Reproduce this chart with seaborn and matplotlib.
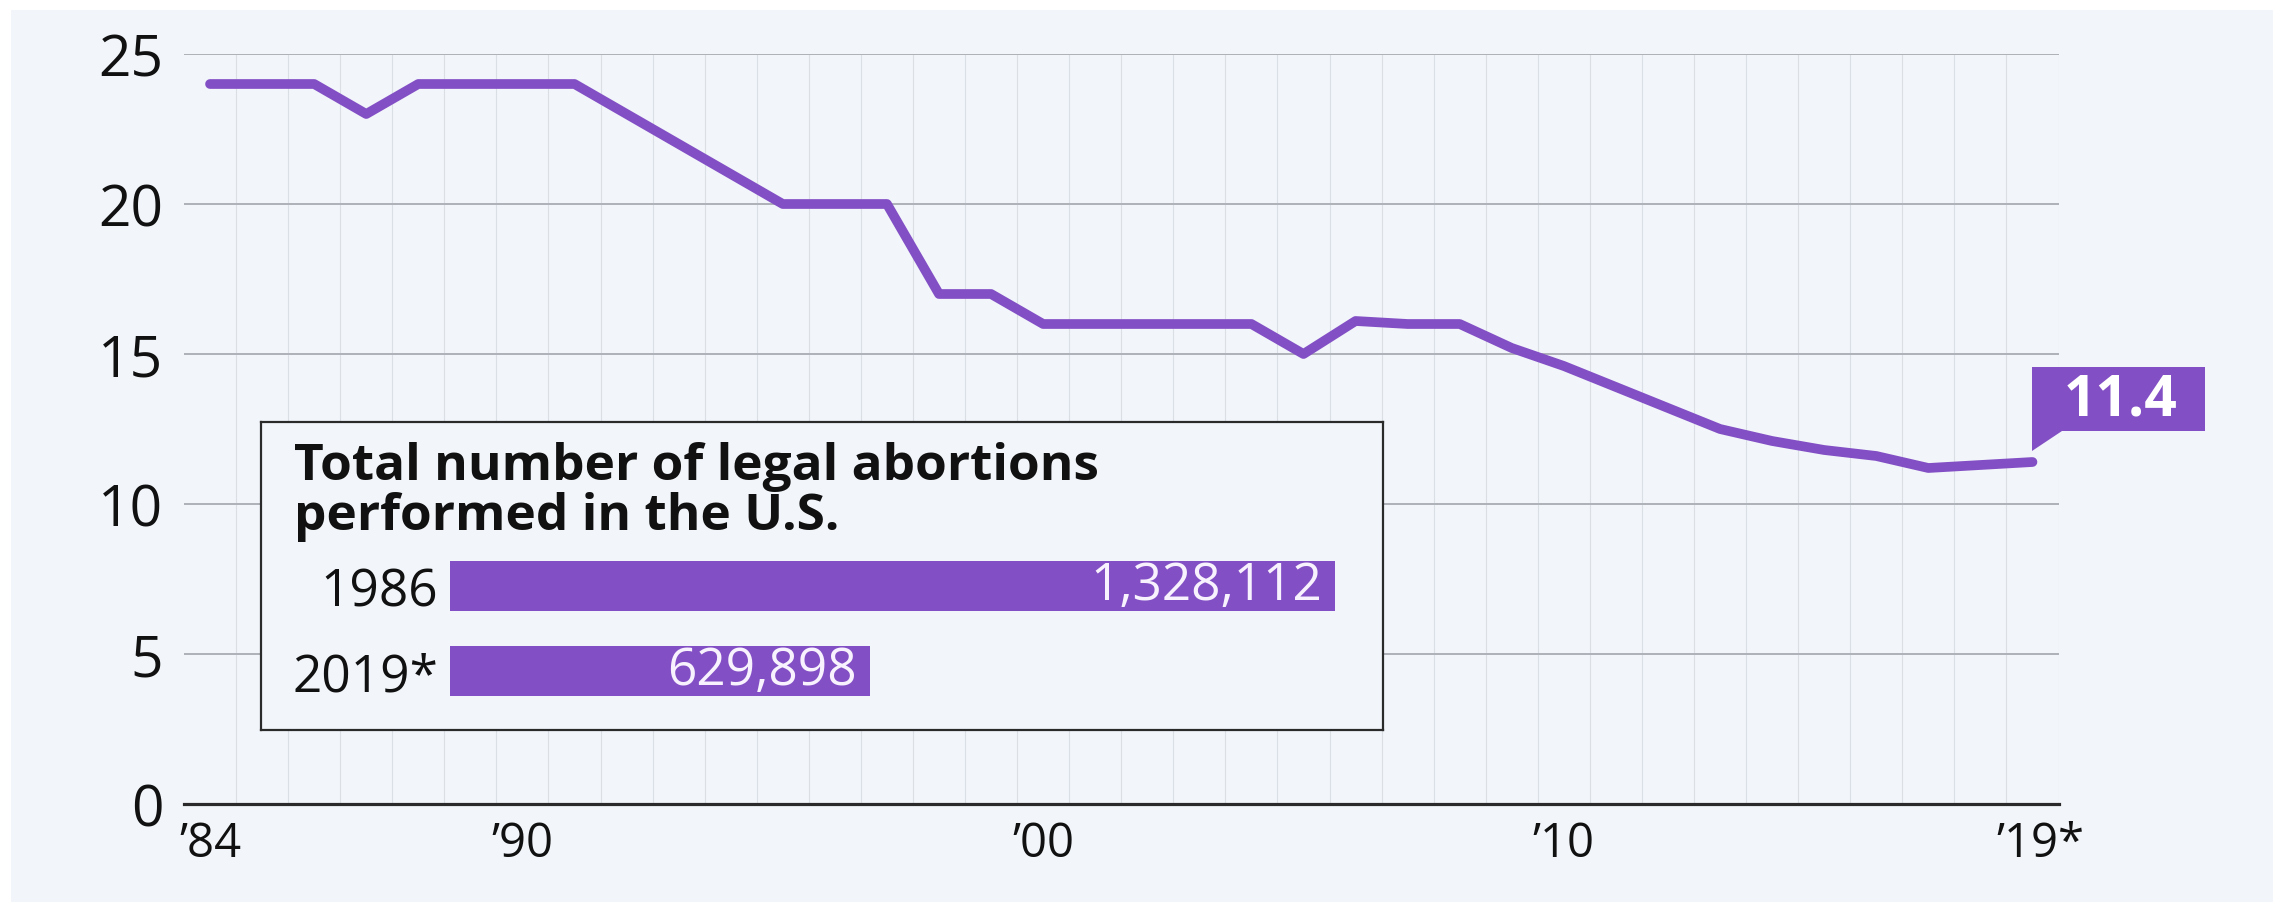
import numpy as np
import pandas as pd
import matplotlib
matplotlib.use("Agg")
import matplotlib.pyplot as plt
import matplotlib.transforms as mtransforms
from matplotlib.patches import Polygon, Rectangle
import seaborn as sns

# ---------------- data ----------------
years = list(range(1984, 2020))
rates = [24, 24, 24, 23, 24, 24, 24, 24, 23, 22, 21, 20, 20, 20, 17, 17,
         16, 16, 16, 16, 16, 15, 16.1, 16.0, 16.0, 15.2, 14.6, 13.9, 13.2,
         12.5, 12.1, 11.8, 11.6, 11.2, 11.3, 11.4]
x_ticks = [1984, 1990, 2000, 2010, 2019]
x_ticklabels = ["\u201984", "\u201990", "\u201900", "\u201910", "\u201919*"]
y_ticks = [0, 5, 10, 15, 20, 25]
last_label = "11.4"

inset_title = "Total number of legal abortions\nperformed in the U.S."
bar_years = ["1986", "2019*"]
bar_totals = [1328112, 629898]

# ---------------- style ----------------
PURPLE = "#834fc5"
BG = "#f2f6fa"
DARK = "#111111"

sns.set_style("white")
plt.rcParams["font.family"] = ["Open Sans", "DejaVu Sans"]

W, H = 2273, 903
fig = plt.figure(figsize=(W / 100, H / 100), dpi=100)
fig.patch.set_facecolor("white")
fig.add_artist(Rectangle((11 / W, 0), 1 - 11 / W, 1 - 11 / H,
                         transform=fig.transFigure, facecolor=BG,
                         edgecolor="none", zorder=0))


def rect(l, t, r, b):
    return [l / W, 1 - b / H, (r - l) / W, (b - t) / H]


# ---------------- main line chart ----------------
ax = fig.add_axes(rect(184, 55, 2058.5, 805))
ax.set_facecolor(BG)
df = pd.DataFrame({"year": years, "rate": rates})
sns.lineplot(data=df, x="year", y="rate", ax=ax, color=PURPLE, linewidth=7,
             solid_joinstyle="round", solid_capstyle="round", zorder=5)
ax.set_xlim(1983.5, 2019.5)
ax.set_ylim(0, 25)
ax.set_xlabel("")
ax.set_ylabel("")

ax.set_xticks(x_ticks)
ax.set_xticklabels(x_ticklabels)
ax.set_xticks(np.arange(1984.5, 2020, 1), minor=True)
ax.set_yticks(y_ticks)
ax.set_yticklabels([str(v) for v in y_ticks])

ax.grid(False)
ax.grid(which="minor", axis="x", color="#dadfe5", linewidth=0.8)
ax.grid(which="major", axis="y", color="#aeb2b8", linewidth=1.4)
ax.set_axisbelow(True)
for s in ["top", "right", "left"]:
    ax.spines[s].set_visible(False)
ax.spines["bottom"].set_color("#2a2a2a")
ax.spines["bottom"].set_linewidth(2.3)
ax.spines["bottom"].set_zorder(6)
ax.tick_params(axis="y", which="both", length=0, pad=15, labelsize=41,
               labelcolor=DARK)
ax.tick_params(axis="x", which="both", length=0, pad=11, labelsize=34,
               labelcolor=DARK)
# the asterisked last label hangs slightly right of its tick
last_tick = ax.get_xticklabels()[-1]
last_tick.set_transform(last_tick.get_transform() +
                        mtransforms.Affine2D().translate(8, 0))

# callout for last value
lx, ly = years[-1], rates[-1]
trans = mtransforms.ScaledTranslation(lx, ly, ax.transData)
callout = Polygon([(0, 11), (0, 95), (173, 95), (173, 31), (30, 31)],
                  closed=True, facecolor=PURPLE, edgecolor="none",
                  transform=trans, clip_on=False, zorder=7)
ax.add_patch(callout)
ax.annotate(last_label, xy=(lx, ly), xytext=(88, 47), textcoords="offset pixels",
            ha="center", va="baseline", color="white", fontsize=41,
            fontweight="bold", zorder=8, annotation_clip=False)

# ---------------- inset box with bar chart ----------------
box = fig.add_axes(rect(261, 423, 1383, 731))
box.set_facecolor(BG)
box.set_xticks([])
box.set_yticks([])
for s in box.spines.values():
    s.set_color("#2a2a2a")
    s.set_linewidth(1.6)
box.text(33 / 1122, 1 - 107 / 308, inset_title, transform=box.transAxes,
         ha="left", va="baseline", fontsize=37, fontweight="bold",
         color=DARK, linespacing=1.0)

bax = fig.add_axes(rect(449.5, 544.5, 1335.5, 714.5))
bax.patch.set_alpha(0)
bdf = pd.DataFrame({"year": bar_years, "total": bar_totals})
sns.barplot(data=bdf, x="total", y="year", orient="h", ax=bax, color=PURPLE,
            saturation=1, width=0.59, edgecolor="none")
bax.set_xlim(0, max(bar_totals))
bax.set_ylim(1.5, -0.5)
bax.set_xlabel("")
bax.set_ylabel("")
bax.set_xticks([])
for s in bax.spines.values():
    s.set_visible(False)
bax.tick_params(axis="y", length=0, pad=8, labelsize=37, labelcolor=DARK)
for i, v in enumerate(bar_totals):
    bax.annotate(f"{v:,}", xy=(v, i), xytext=(-13, 0), textcoords="offset pixels",
                 ha="right", va="center", color="#f7f2fd", fontsize=37)

fig.savefig("out.png", dpi=100, facecolor=fig.get_facecolor())
